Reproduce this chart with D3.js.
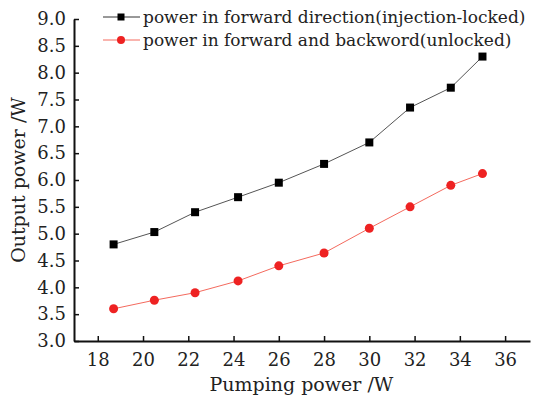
<!DOCTYPE html>
<html>
<head>
<meta charset="utf-8">
<script src="https://cdn.jsdelivr.net/npm/d3@7"></script>
<style>
  body { margin: 0; background: #fff; }
  text { font-family: "DejaVu Serif", serif; fill: #222; }
</style>
</head>
<body>
<div id="chart"></div>
<script>
var pumping = [18.7, 20.5, 22.3, 24.2, 26.0, 28.0, 30.0, 31.8, 33.6, 35.0];
var lockedPower = [4.8, 5.03, 5.4, 5.68, 5.95, 6.3, 6.7, 7.35, 7.72, 8.3];
var unlockedPower = [3.6, 3.76, 3.9, 4.12, 4.4, 4.64, 5.1, 5.5, 5.9, 6.12];
var xTicks = [18, 20, 22, 24, 26, 28, 30, 32, 34, 36];
var yTicks = [3.0, 3.5, 4.0, 4.5, 5.0, 5.5, 6.0, 6.5, 7.0, 7.5, 8.0, 8.5, 9.0];
var seriesNames = ["power in forward direction(injection-locked)",
                   "power in forward and backword(unlocked)"];

var margins = { top: 19, right: 3, bottom: 58, left: 74 },
    width = 533 - margins.left - margins.right,
    height = 399 - margins.top - margins.bottom;

var svg = d3.select("#chart")
    .append("svg")
    .attr("width", 533)
    .attr("height", 399);

var plot = svg.append("g")
    .attr("transform", "translate(" + margins.left + "," + margins.top + ")");

var x = d3.scaleLinear().domain([16.95, 37.1]).range([0, width]);
var y = d3.scaleLinear().domain([3, 9]).range([height, 0]);

// axes, ticks pointing inward
var xAxis = plot.append("g")
    .attr("transform", "translate(0," + height + ")")
    .call(d3.axisBottom(x).tickValues(xTicks).tickSize(-5).tickSizeOuter(0).tickPadding(12)
        .tickFormat(d3.format("d")));

var yAxis = plot.append("g")
    .call(d3.axisLeft(y).tickValues(yTicks).tickSize(-5).tickSizeOuter(0).tickPadding(8)
        .tickFormat(d3.format(".1f")));

[xAxis, yAxis].forEach(function (a) {
    a.select(".domain").attr("stroke", "#111").attr("stroke-width", 2);
    a.selectAll(".tick line").attr("stroke", "#111").attr("stroke-width", 1.5);
    a.selectAll(".tick text")
        .style("font-family", "DejaVu Serif, serif")
        .style("font-size", "18px")
        .attr("fill", "#222");
});

// axis titles
svg.append("text")
    .attr("x", margins.left + x(27))
    .attr("y", 391)
    .attr("text-anchor", "middle")
    .style("font-size", "19px")
    .text("Pumping power /W");

svg.append("text")
    .attr("transform", "translate(25," + (margins.top + y(6)) + ") rotate(-90)")
    .attr("text-anchor", "middle")
    .style("font-size", "19px")
    .text("Output power /W");

// lines
var lineGen = function (vals) {
    return d3.line()
        .x(function (d, i) { return x(pumping[i]); })
        .y(function (d) { return y(d); })(vals);
};

plot.append("path")
    .attr("d", lineGen(lockedPower))
    .attr("fill", "none")
    .attr("stroke", "#555")
    .attr("stroke-width", 1);

plot.append("path")
    .attr("d", lineGen(unlockedPower))
    .attr("fill", "none")
    .attr("stroke", "#f46a5e")
    .attr("stroke-width", 1);

plot.selectAll(".sq")
    .data(lockedPower)
    .enter()
    .append("rect")
    .attr("x", function (d, i) { return x(pumping[i]) - 4; })
    .attr("y", function (d) { return y(d) - 4; })
    .attr("width", 8)
    .attr("height", 8)
    .attr("fill", "#000");

plot.selectAll(".dot")
    .data(unlockedPower)
    .enter()
    .append("circle")
    .attr("cx", function (d, i) { return x(pumping[i]); })
    .attr("cy", function (d) { return y(d); })
    .attr("r", 4.5)
    .attr("fill", "#ee2222");

// legend
var legend = svg.append("g").attr("transform", "translate(103,17)");
legend.append("line").attr("x1", 0).attr("x2", 37).attr("y1", 0).attr("y2", 0)
    .attr("stroke", "#333").attr("stroke-width", 1);
legend.append("rect").attr("x", 14.5).attr("y", -3.5).attr("width", 7).attr("height", 7).attr("fill", "#000");
legend.append("text").attr("x", 40).attr("y", 6).style("font-size", "17px").text(seriesNames[0]);

legend.append("line").attr("x1", 0).attr("x2", 37).attr("y1", 23).attr("y2", 23)
    .attr("stroke", "#f46a5e").attr("stroke-width", 1);
legend.append("circle").attr("cx", 18).attr("cy", 23).attr("r", 4).attr("fill", "#ee2222");
legend.append("text").attr("x", 40).attr("y", 29).style("font-size", "17px").text(seriesNames[1]);
</script>
</body>
</html>
